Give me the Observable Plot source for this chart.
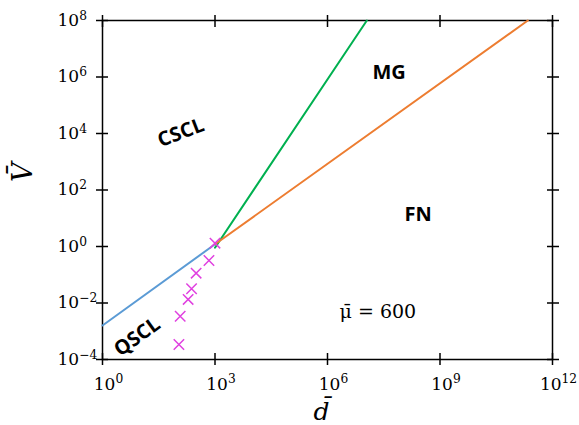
<!DOCTYPE html>
<html><head><meta charset="utf-8">
<script src="https://cdn.jsdelivr.net/npm/d3@7"></script>
<script src="https://cdn.jsdelivr.net/npm/@observablehq/plot@0.6"></script>
<style>body{margin:0;background:#fff} svg{display:block}</style>
</head><body><div id="chart"></div>
<script>
// tick values
const xTicks = [1, 1e3, 1e6, 1e9, 1e12];
const yTicks = [1e-4, 1e-2, 1, 1e2, 1e4, 1e6, 1e8];
// boundary lines
const qsclD = [1, 1000];
const qsclV = [0.0016, 1.2];
const mgD = [1000, 1.12e7];
const mgV = [0.9, 1e8];
const fnD = [1000, 2.2e11];
const fnV = [1.2, 1e8];
// crosses
const crossD = [1000, 690, 314, 237, 192, 118, 109];
const crossV = [1.31, 0.32, 0.114, 0.032, 0.0134, 0.0034, 0.00034];
// region labels
const regionNames = ["CSCL", "QSCL", "MG", "FN"];
const regionD = [123, 8.4, 4.4e7, 2.6e8];
const regionV = [1.07e4, 6.3e-4, 1.4e6, 13.5];
const regionAngle = [-21, -36, 0, 0];
const muLabel = ["μ\u0304 = 600"];
const muD = [2.2e7];
const muV = [4.8e-3];
const xTitle = ["d\u0304"];
const yTitle = ["V\u0304"];

const fmt = d => { const e = Math.round(Math.log10(d)); return "10^" + (e < 0 ? "\u2212" + (-e) : e); };

const chart = Plot.plot({
  width: 579, height: 425,
  marginLeft: 102, marginRight: 27, marginTop: 20, marginBottom: 66,
  style: {fontFamily: "DejaVu Serif", fontSize: "17px", background: "#fff", color: "#000"},
  x: {type: "log", domain: [1, 1e12], label: null},
  y: {type: "log", domain: [1e-4, 1e8], label: null},
  marks: [
    Plot.frame({strokeWidth: 1.5}),
    Plot.axisX({anchor: "bottom", ticks: xTicks, tickSize: 12, dy: -6, fill: "none", strokeWidth: 1.5, label: null}),
    Plot.axisX({anchor: "top", ticks: xTicks, tickSize: 12, dy: 6, fill: "none", strokeWidth: 1.5, label: null}),
    Plot.axisY({anchor: "left", ticks: yTicks, tickSize: 12, dx: 6, fill: "none", strokeWidth: 1.5, label: null}),
    Plot.axisY({anchor: "right", ticks: yTicks, tickSize: 12, dx: -6, fill: "none", strokeWidth: 1.5, label: null}),
    Plot.axisX({anchor: "bottom", ticks: xTicks, tickSize: 0, tickPadding: 18, dx: 6, tickFormat: fmt, label: null, fontSize: 17}),
    Plot.axisY({anchor: "left", ticks: yTicks, tickSize: 0, tickPadding: 0, dx: -45, textAnchor: "start", tickFormat: fmt, label: null, fontSize: 17}),
    Plot.line(qsclD, {x: qsclD, y: qsclV, stroke: "#5b9bd5", strokeWidth: 2}),
    Plot.line(mgD, {x: mgD, y: mgV, stroke: "#00b050", strokeWidth: 2}),
    Plot.line(fnD, {x: fnD, y: fnV, stroke: "#ed7d31", strokeWidth: 2}),
    Plot.dot(crossD, {x: crossD, y: crossV, symbol: "times", r: 4.8, stroke: "#e040e0", strokeWidth: 1.5}),
    Plot.text(regionNames, {x: regionD, y: regionV, text: regionNames, rotate: regionAngle, fontFamily: "Open Sans", fontWeight: "bold", fontSize: 20, fill: "#000"}),
    Plot.text(muLabel, {x: muD, y: muV, text: d => d, fontFamily: "DejaVu Serif", fontSize: 19, fill: "#000", ariaLabel: "mu-label"}),
    Plot.text(yTitle, {text: d => d, frameAnchor: "left", dx: -79, dy: -8, rotate: -90, fontFamily: "DejaVu Serif", fontStyle: "italic", fontSize: 27, fill: "#000"}),
    Plot.text(xTitle, {text: d => d, frameAnchor: "bottom", dx: -6, dy: 60, fontFamily: "DejaVu Serif", fontStyle: "italic", fontSize: 25, fill: "#000"})
  ]
});

// superscript exponents
d3.select(chart).selectAll('g[aria-label$="tick label"] text').each(function() {
  const t = this.textContent;
  if (!t.includes("^")) return;
  const [b, e] = t.split("^");
  const s = d3.select(this);
  s.text(b);
  s.append("tspan").attr("dy", "-0.5em").attr("font-size", "72%").text(e);
});
// italic mu
d3.select(chart).selectAll('g[aria-label="mu-label"] text').each(function() {
  const s = d3.select(this);
  s.text("");
  s.append("tspan").attr("font-style", "italic").text("μ\u0304");
  s.append("tspan").text(" = 600");
});
document.getElementById("chart").append(chart);
</script>
</body></html>
